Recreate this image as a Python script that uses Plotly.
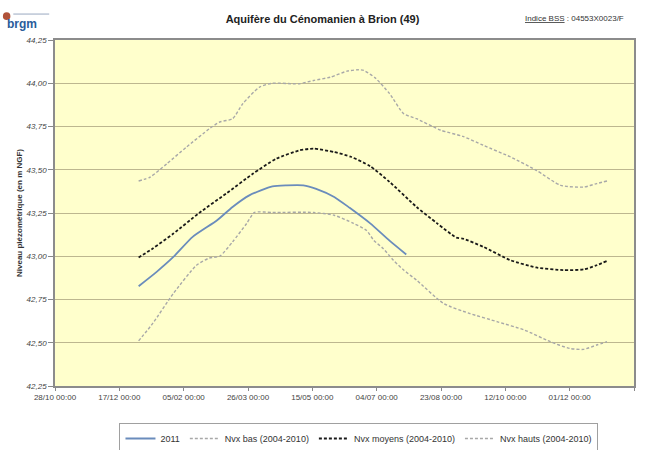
import plotly.graph_objects as go

# ---- data ----
dates_2011 = ["2012-01-01", "2012-01-15", "2012-01-28", "2012-02-12", "2012-03-02", "2012-03-14",
              "2012-03-27", "2012-04-14", "2012-04-25", "2012-05-08", "2012-05-18", "2012-06-01",
              "2012-06-13", "2012-06-29", "2012-07-14", "2012-07-27"]
vals_2011 = [42.827, 42.91, 42.996, 43.112, 43.208, 43.285, 43.352, 43.404, 43.41, 43.41, 43.39,
             43.343, 43.28, 43.19, 43.09, 43.01]

dates_bas = ["2012-01-01", "2012-01-12", "2012-01-28", "2012-02-15", "2012-02-25", "2012-03-04",
             "2012-03-14", "2012-03-25", "2012-03-31", "2012-04-14", "2012-05-16", "2012-06-01",
             "2012-06-16", "2012-06-26", "2012-07-02", "2012-07-09", "2012-07-17", "2012-07-25",
             "2012-08-04", "2012-08-25", "2012-09-14", "2012-10-06", "2012-10-27", "2012-11-16",
             "2012-12-01", "2012-12-12", "2012-12-22", "2012-12-30"]
vals_bas = [42.511, 42.612, 42.785, 42.948, 42.99, 43.0, 43.083, 43.19, 43.253, 43.253, 43.253,
            43.237, 43.19, 43.15, 43.09, 43.045, 42.977, 42.92, 42.862, 42.727, 42.67, 42.621,
            42.573, 42.506, 42.467, 42.462, 42.487, 42.506]

dates_moy = ["2012-01-01", "2012-01-12", "2012-01-28", "2012-02-17", "2012-03-09", "2012-03-30",
             "2012-04-17", "2012-05-05", "2012-05-16", "2012-06-01", "2012-06-14", "2012-06-29",
             "2012-07-14", "2012-08-04", "2012-08-20", "2012-09-04", "2012-09-09", "2012-09-25",
             "2012-10-16", "2012-11-05", "2012-11-26", "2012-12-12", "2012-12-22", "2012-12-30"]
vals_moy = [42.993, 43.045, 43.131, 43.25, 43.362, 43.478, 43.564, 43.612, 43.622, 43.602, 43.575,
            43.52, 43.43, 43.285, 43.19, 43.108, 43.102, 43.054, 42.977, 42.935, 42.92, 42.924,
            42.948, 42.973]

dates_hauts = ["2012-01-01", "2012-01-10", "2012-01-23", "2012-02-07", "2012-02-25", "2012-03-04",
               "2012-03-14", "2012-03-22", "2012-04-04", "2012-04-14", "2012-04-30", "2012-05-05",
               "2012-05-16", "2012-05-29", "2012-06-11", "2012-06-20", "2012-06-24", "2012-07-03",
               "2012-07-14", "2012-07-25", "2012-08-04", "2012-08-23", "2012-09-09", "2012-09-25",
               "2012-10-16", "2012-11-05", "2012-11-24", "2012-12-12", "2012-12-22", "2012-12-30"]
vals_hauts = [43.435, 43.458, 43.535, 43.63, 43.737, 43.776, 43.795, 43.882, 43.978, 44.0, 43.997,
              43.997, 44.016, 44.035, 44.07, 44.078, 44.074, 44.03, 43.94, 43.824, 43.795, 43.728,
              43.693, 43.641, 43.574, 43.497, 43.41, 43.40, 43.42, 43.435]

series_names = ["2011", "Nvx bas (2004-2010)", "Nvx moyens (2004-2010)", "Nvx hauts (2004-2010)"]
y_ticks = [42.25, 42.5, 42.75, 43.0, 43.25, 43.5, 43.75, 44.0, 44.25]
x_range = ["2011-10-28", "2013-01-20"]

FONT = "Arial, Liberation Sans, sans-serif"

fig = go.Figure()
fig.add_trace(go.Scatter(x=dates_2011, y=vals_2011, name=series_names[0], mode="lines",
                         line=dict(color="#6a8cbc", width=1.8, shape="spline", smoothing=0.6)))
fig.add_trace(go.Scatter(x=dates_bas, y=vals_bas, name=series_names[1], mode="lines",
                         line=dict(color="#a8a8a8", width=1.4, dash="3px,2px", shape="spline",
                                   smoothing=0.6)))
fig.add_trace(go.Scatter(x=dates_moy, y=vals_moy, name=series_names[2], mode="lines",
                         line=dict(color="#1a1a1a", width=1.8, dash="3px,2px", shape="spline",
                                   smoothing=0.6)))
fig.add_trace(go.Scatter(x=dates_hauts, y=vals_hauts, name=series_names[3], mode="lines",
                         line=dict(color="#a8a8a8", width=1.4, dash="3px,2px", shape="spline",
                                   smoothing=0.6)))

fig.update_layout(
    width=645, height=450,
    margin=dict(l=55, r=11, t=40, b=64, autoexpand=False),
    paper_bgcolor="white", plot_bgcolor="#ffffcc",
    separators=",.",
    font=dict(family=FONT, size=8, color="#333333"),
    showlegend=True,
    legend=dict(orientation="h", x=0.525, xanchor="center", y=-0.107, yanchor="top",
                bordercolor="#a0a0a0", borderwidth=1, font=dict(size=9, color="#333333"),
                itemwidth=30, tracegroupgap=0),
    title=dict(text="<b>Aquifère du Cénomanien à Brion (49)</b>", x=0.5, xanchor="center",
               y=0.958, yanchor="middle", font=dict(size=11, color="#222222", family=FONT)),
)

fig.update_xaxes(
    type="date", range=x_range, tick0="2011-10-28", dtick=50 * 86400000,
    tickformat="%d/%m %H:%M", ticks="outside", ticklen=3, tickcolor="#888888",
    showgrid=False, showline=True, linecolor="#8c8c8c", linewidth=1.5, mirror=True,
    tickfont=dict(size=8, color="#444444"), zeroline=False, automargin=False,
)
fig.update_yaxes(
    range=[42.25, 44.25], tickvals=y_ticks, tickformat=".2f",
    ticks="outside", ticklen=5, tickcolor="#888888",
    showgrid=True, gridcolor="#bdb78f", gridwidth=1,
    showline=True, linecolor="#8c8c8c", linewidth=1.5, mirror=True,
    tickfont=dict(size=8, color="#444444", style="italic"), zeroline=False, automargin=False,
    title=dict(text="<b>Niveau piézométrique (en m NGF)</b>", font=dict(size=8, color="#333333"),
               standoff=3),
)

fig.add_annotation(xref="paper", yref="paper", x=0.987, y=1.062, xanchor="right", yanchor="middle",
                   text="<u>Indice BSS</u> : 04553X0023/F", showarrow=False,
                   font=dict(size=8, color="#333333", family=FONT))
fig.add_annotation(xref="paper", yref="paper", x=-0.087, y=1.045, xanchor="left", yanchor="middle",
                   text="<b>brgm</b>", showarrow=False,
                   font=dict(size=12, color="#2a5c9a", family=FONT))
fig.add_shape(type="circle", xref="paper", yref="paper", x0=-0.09, x1=-0.077, y0=1.058, y1=1.08,
              fillcolor="#b0533a", line=dict(width=0))
fig.add_shape(type="line", xref="paper", yref="paper", x0=-0.072, x1=-0.01, y0=1.075, y1=1.075,
              line=dict(color="#9aa8c0", width=1))

fig.write_html("out.html", config={"displayModeBar": False},
               post_script="document.body.style.margin='0';")
